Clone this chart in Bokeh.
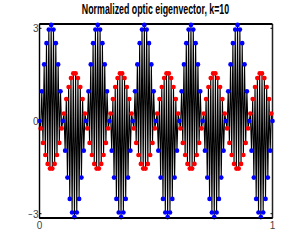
from bokeh.plotting import figure
from bokeh.models import LinearAxis, FixedTicker, Range1d, Div
from bokeh.layouts import column
from bokeh.embed import file_html
from bokeh.resources import INLINE

TITLE = "Normalized optic eigenvector, k=10"
x_ticks = [0, 1]
y_ticks = [-3, 0, 3]

# first sublattice (blue), read at sites 0..100
blue_y = [
 0, .96, 1.83, 2.52, 2.96, 3.11, 2.96, 2.52, 1.83, .96,
 0, -.96, -1.83, -2.52, -2.96, -3.11, -2.96, -2.52, -1.83, -.96,
 0, .96, 1.83, 2.52, 2.96, 3.11, 2.96, 2.52, 1.83, .96,
 0, -.96, -1.83, -2.52, -2.96, -3.11, -2.96, -2.52, -1.83, -.96,
 0, .96, 1.83, 2.52, 2.96, 3.11, 2.96, 2.52, 1.83, .96,
 0, -.96, -1.83, -2.52, -2.96, -3.11, -2.96, -2.52, -1.83, -.96,
 0, .96, 1.83, 2.52, 2.96, 3.11, 2.96, 2.52, 1.83, .96,
 0, -.96, -1.83, -2.52, -2.96, -3.11, -2.96, -2.52, -1.83, -.96,
 0, .96, 1.83, 2.52, 2.96, 3.11, 2.96, 2.52, 1.83, .96,
 0, -.96, -1.83, -2.52, -2.96, -3.11, -2.96, -2.52, -1.83, -.96,
 0,
]
# second sublattice (red), read at half sites 0.5..99.5
red_y = [
 -.24, -.71, -1.10, -1.39, -1.54, -1.54, -1.39, -1.10, -.71, -.24,
 .24, .71, 1.10, 1.39, 1.54, 1.54, 1.39, 1.10, .71, .24,
 -.24, -.71, -1.10, -1.39, -1.54, -1.54, -1.39, -1.10, -.71, -.24,
 .24, .71, 1.10, 1.39, 1.54, 1.54, 1.39, 1.10, .71, .24,
 -.24, -.71, -1.10, -1.39, -1.54, -1.54, -1.39, -1.10, -.71, -.24,
 .24, .71, 1.10, 1.39, 1.54, 1.54, 1.39, 1.10, .71, .24,
 -.24, -.71, -1.10, -1.39, -1.54, -1.54, -1.39, -1.10, -.71, -.24,
 .24, .71, 1.10, 1.39, 1.54, 1.54, 1.39, 1.10, .71, .24,
 -.24, -.71, -1.10, -1.39, -1.54, -1.54, -1.39, -1.10, -.71, -.24,
 .24, .71, 1.10, 1.39, 1.54, 1.54, 1.39, 1.10, .71, .24,
]

n = len(red_y)
blue_x = [i / n for i in range(n + 1)]
red_x = [(i + 0.5) / n for i in range(n)]
line_x, line_y = [], []
for i in range(n):
    line_x += [blue_x[i], red_x[i]]
    line_y += [blue_y[i], red_y[i]]
line_x.append(blue_x[n])
line_y.append(blue_y[n])

Y_LIM = 3.14
p = figure(width=290, height=219, output_backend="svg", toolbar_location=None,
           x_range=Range1d(-11 / 233, 1 + 6 / 233), y_range=Range1d(-3.608, 3.285),
           min_border_left=28, min_border_right=12, min_border_top=3, min_border_bottom=3,
           x_axis_location=None, y_axis_location=None)
p.grid.visible = False
p.outline_line_color = None

a = LinearAxis(ticker=FixedTicker(ticks=y_ticks), fixed_location=0, bounds=(-Y_LIM, Y_LIM))
b = LinearAxis(ticker=FixedTicker(ticks=x_ticks), fixed_location=-Y_LIM, bounds=(0, 1))
for ax, so in ((a, 1), (b, 3)):
    ax.axis_line_color = "#000000"
    ax.major_tick_line_color = "#000000"
    ax.major_tick_in = 0
    ax.major_tick_out = 0
    ax.minor_tick_line_color = None
    ax.major_label_text_font = "Liberation Sans"
    ax.major_label_text_font_size = "10px"
    ax.major_label_text_color = "#444444"
    ax.major_label_standoff = so
p.add_layout(a, "left")
p.add_layout(b, "below")

p.line(line_x, line_y, line_color="#000000", line_width=1.1)

# frame and inward ticks, drawn in data space
tick_dx = 2 / 233
p.segment([0, 1], [-Y_LIM, -Y_LIM], [0, 1], [Y_LIM, Y_LIM], line_color="#222222", line_width=1.5)
p.segment([0, 0], [-Y_LIM, Y_LIM], [1, 1], [-Y_LIM, Y_LIM], line_color="#000000", line_width=2)
p.segment([0] * len(y_ticks), y_ticks, [tick_dx] * len(y_ticks), y_ticks, line_color="#000000", line_width=1)
p.segment([1] * len(y_ticks), y_ticks, [1 - tick_dx] * len(y_ticks), y_ticks, line_color="#000000", line_width=1)

p.scatter(blue_x, blue_y, size=4.7, color="#0000ff", line_width=0)
p.scatter(red_x, red_y, size=4.7, color="#ff0000", line_width=0)

title = Div(text=TITLE, width=269, height=14, margin=(2, 0, 0, 21),
            styles={"font-family": "Liberation Sans", "font-size": "14px", "font-weight": "bold",
                    "color": "#000000", "white-space": "nowrap", "text-align": "center",
                    "transform": "scaleX(0.63)", "line-height": "14px"})
layout = column(title, p, spacing=0)

open("out.html", "w").write(file_html(layout, INLINE))
